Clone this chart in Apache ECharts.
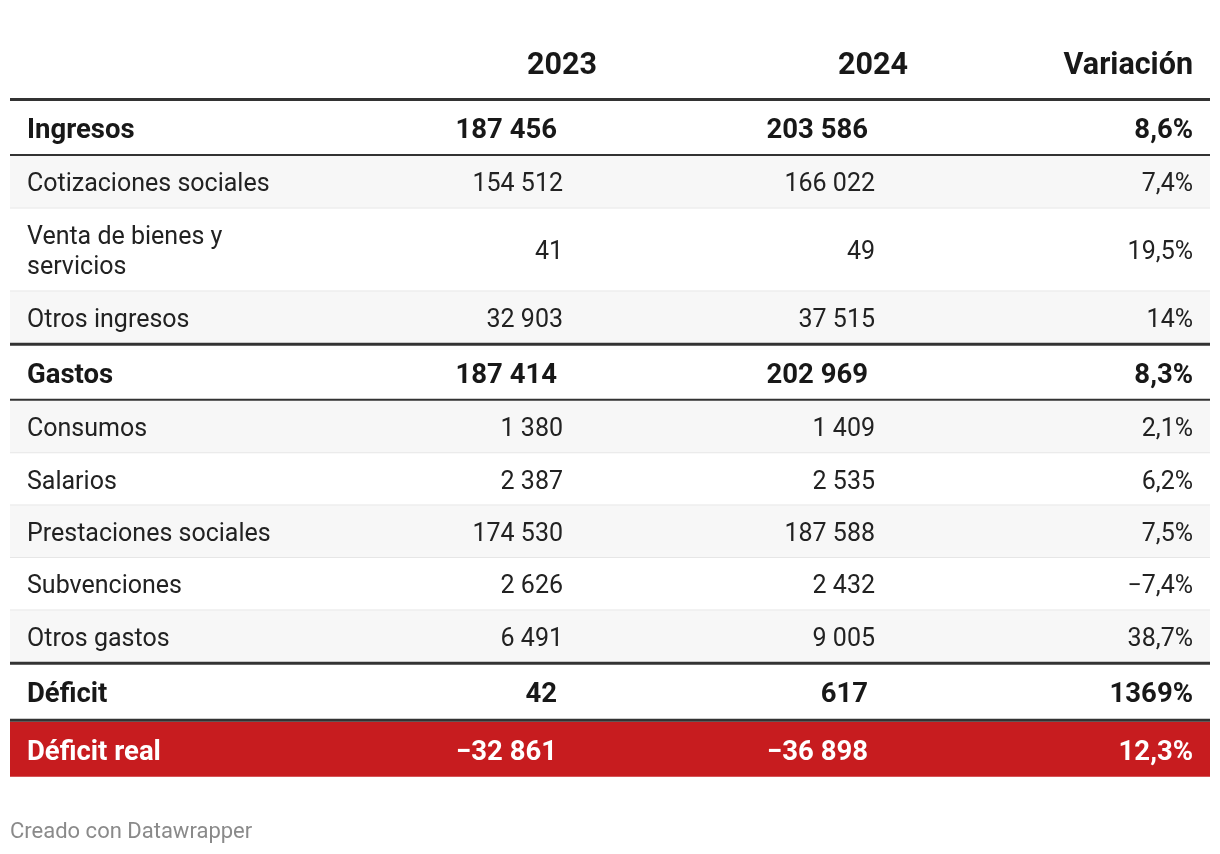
<!DOCTYPE html>
<html>
<head>
<meta charset="utf-8">
<script src="https://cdn.jsdelivr.net/npm/echarts@6/dist/echarts.min.js"></script>
<style>
html,body{margin:0;padding:0;background:#fff;}
#chart{width:1220px;height:854px;}
</style>
</head>
<body>
<div id="chart"></div>
<script>
// ---- data ----
var headers = ["2023", "2024", "Variación"];
var rowLabels = ["Ingresos", "Cotizaciones sociales", "Venta de bienes y servicios", "Otros ingresos",
  "Gastos", "Consumos", "Salarios", "Prestaciones sociales", "Subvenciones", "Otros gastos",
  "Déficit", "Déficit real"];
var rowTypes = ["total", "item", "item", "item", "total", "item", "item", "item", "item", "item", "total", "highlight"];
var values2023 = [187456, 154512, 41, 32903, 187414, 1380, 2387, 174530, 2626, 6491, 42, -32861];
var values2024 = [203586, 166022, 49, 37515, 202969, 1409, 2535, 187588, 2432, 9005, 617, -36898];
var variation = [8.6, 7.4, 19.5, 14, 8.3, 2.1, 6.2, 7.5, -7.4, 38.7, 1369, 12.3];
var footer = "Creado con Datawrapper";

// ---- formatting ----
var MINUS = "\u2212";
function fmtNum(v) {
  var s = String(Math.abs(v)).replace(/\B(?=(\d{3})+(?!\d))/g, " ");
  return (v < 0 ? MINUS : "") + s;
}
function fmtPct(v) {
  return (v < 0 ? MINUS : "") + String(Math.abs(v)).replace(".", ",") + "%";
}

// ---- layout (computed) ----
var FONT = "Roboto, 'Noto Sans', sans-serif";
var TABLE_L = 10, TABLE_R = 1210, LABEL_X = 27, LABEL_W = 272;
var TEXT_DY = 3.5;
var layout = [];
(function () {
  var y = 98;
  for (var i = 0; i < rowLabels.length; i++) {
    var t = rowTypes[i];
    var prev = i > 0 ? rowTypes[i - 1] : null;
    var bTop = y, bH;
    if (t === "total" || t === "highlight") bH = 3;
    else if (prev === "total") bH = 2;
    else bH = 1;
    var bColor = bH === 1 ? "#e6e6e6" : "#333333";
    y += bH;
    var h;
    if (t === "total") h = (i === rowLabels.length - 2) ? 54 : 53;
    else if (t === "highlight") h = 55;
    else if (rowLabels[i].length > 24) h = 82;
    else h = 51.4;
    layout.push({ bTop: bTop, bH: bH, bColor: bColor, top: y, bottom: y + h });
    y += h;
  }
})();

var chart = echarts.init(document.getElementById("chart"), null, { renderer: "canvas" });

function renderRow(params, api) {
  var i = api.value(0);
  var t = rowTypes[i];
  var L = layout[i];
  var p0 = api.coord([TABLE_L, L.top]);
  var p1 = api.coord([TABLE_R, L.bottom]);
  var b0 = api.coord([TABLE_L, L.bTop]);
  var b1 = api.coord([TABLE_R, L.bTop + L.bH]);
  var cy = (p0[1] + p1[1]) / 2 + TEXT_DY;
  var children = [];
  var bg = null;
  if (t === "highlight") bg = "#c71c1f";
  else if (t === "item") {
    var k = 0, j = i;
    while (j > 0 && rowTypes[j - 1] === "item") { j--; k++; }
    bg = (k % 2 === 0) ? "#f7f7f7" : null;
  }
  if (bg) children.push({ type: "rect", shape: { x: p0[0], y: p0[1], width: p1[0] - p0[0], height: p1[1] - p0[1] }, style: { fill: bg } });
  children.push({ type: "rect", shape: { x: b0[0], y: b0[1], width: b1[0] - b0[0], height: b1[1] - b0[1] }, style: { fill: L.bColor } });

  var bold = t !== "item";
  var color = t === "highlight" ? "#ffffff" : (bold ? "#181818" : "#222222");
  var font = bold ? ("bold 27.5px " + FONT) : ("25px " + FONT);
  var c1 = api.coord([bold ? 557 : 563, 0])[0];
  var c2 = api.coord([bold ? 868 : 875, 0])[0];
  var c3 = api.coord([1193, 0])[0];
  var lx = api.coord([LABEL_X, 0])[0];
  children.push({ type: "text", style: { text: rowLabels[i], x: lx, y: cy, font: font, fill: color, textAlign: "left", textVerticalAlign: "middle", width: LABEL_W, overflow: "break", lineHeight: 30 } });
  children.push({ type: "text", style: { text: fmtNum(values2023[i]), x: c1, y: cy, font: font, fill: color, textAlign: "right", textVerticalAlign: "middle" } });
  children.push({ type: "text", style: { text: fmtNum(values2024[i]), x: c2, y: cy, font: font, fill: color, textAlign: "right", textVerticalAlign: "middle" } });
  children.push({ type: "text", style: { text: fmtPct(variation[i]), x: c3, y: cy, font: font, fill: color, textAlign: "right", textVerticalAlign: "middle" } });
  return { type: "group", children: children };
}

function renderHeader(params, api) {
  var cols = [597, 908, 1193];
  var children = headers.map(function (h, k) {
    var p = api.coord([cols[k], 63 + TEXT_DY]);
    return { type: "text", style: { text: h, x: p[0], y: p[1], font: "bold 30.5px " + FONT, fill: "#181818", textAlign: "right", textVerticalAlign: "middle" } };
  });
  var f = api.coord([10, 829 + TEXT_DY]);
  children.push({ type: "text", style: { text: footer, x: f[0], y: f[1], font: "22px " + FONT, fill: "#8a8a8a", textAlign: "left", textVerticalAlign: "middle" } });
  return { type: "group", children: children };
}

chart.setOption({
  animation: false,
  grid: { left: 0, right: 0, top: 0, bottom: 0 },
  xAxis: { type: "value", min: 0, max: 1220, show: false },
  yAxis: { type: "value", min: 0, max: 854, inverse: true, show: false },
  series: [
    { type: "custom", clip: false, renderItem: renderHeader, data: [[0, 0]] },
    { type: "custom", clip: false, renderItem: renderRow, data: rowLabels.map(function (_, i) { return [i, i]; }) }
  ]
});
</script>
</body>
</html>
